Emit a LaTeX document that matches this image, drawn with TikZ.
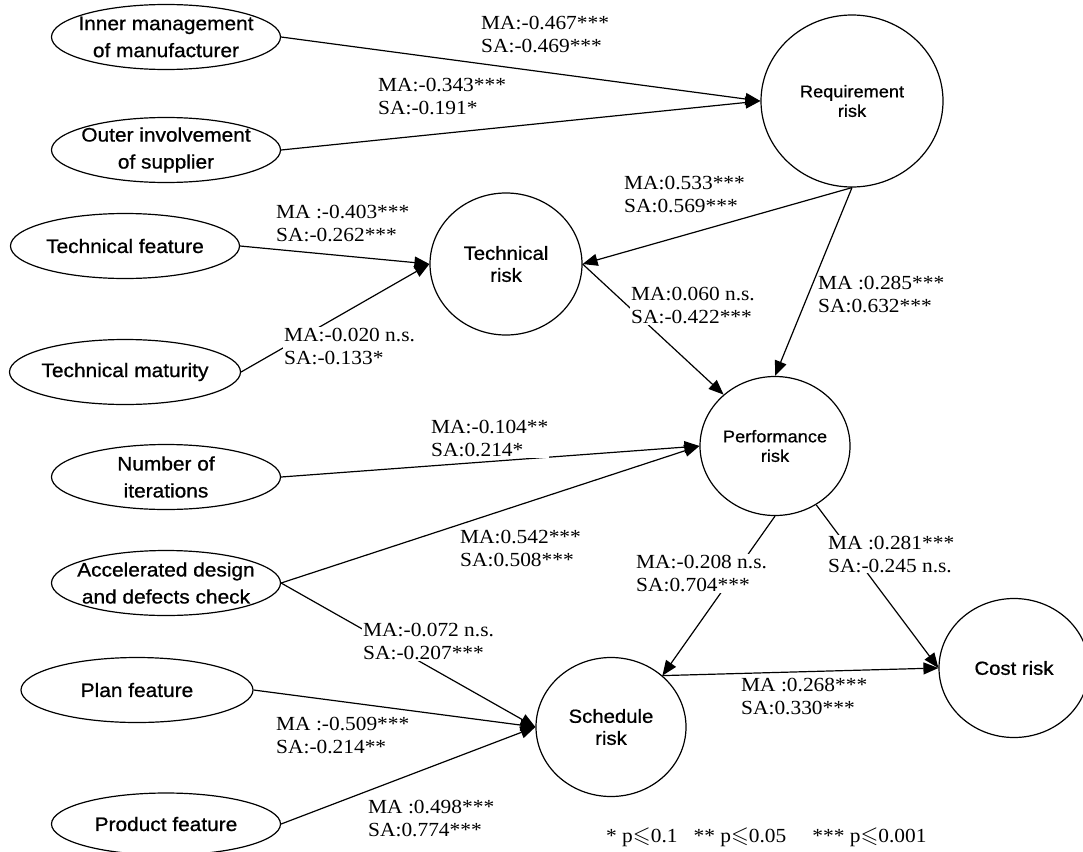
\documentclass[tikz,border=0pt]{standalone}
\usepackage{fontspec}
\usepackage{amssymb}
\setmainfont{Liberation Serif}[FakeStretch=1.07]
\newfontfamily\lsans{Liberation Sans}[FakeStretch=1.07,FakeBold=0.8]
\usetikzlibrary{shapes.geometric,arrows.meta}
\newcommand{\pleq}{p{\fontsize{23}{23}\selectfont$\leqslant$}}
\begin{document}
\begin{tikzpicture}[x=1pt,y=-1pt,
  every node/.style={inner sep=0pt},
  oval/.style={draw,ellipse,line width=1.2pt,minimum width=229pt,minimum height=65pt},
  ovaltext/.style={font=\lsans\fontsize{19.5}{27}\selectfont,align=center},
  risk/.style={draw,ellipse,line width=1.2pt,minimum width=150pt,minimum height=139pt,
    font=\lsans\fontsize{19}{22}\selectfont,align=center},
  smallrisk/.style={font=\lsans\fontsize{17}{19.5}\selectfont},
  coef/.style={font=\fontsize{20}{23}\selectfont,align=left,anchor=west,fill=white,inner sep=1pt},
  arr/.style={line width=1.2pt,-{Triangle[length=15pt,width=12pt]}}
]
\useasboundingbox (0,0) rectangle (1083,851);

% exogenous factors
\node[oval,label={[ovaltext]center:{Inner management\\of manufacturer}}] (inner) at (166,37) {};
\node[oval,label={[ovaltext]center:{Outer involvement\\of supplier}}] (outer) at (166,150) {};
\node[oval,label={[ovaltext]center:{Technical feature}}] (tfeat) at (125,246) {};
\node[oval,minimum width=231pt,label={[ovaltext]center:{Technical maturity}}] (tmat) at (125,372) {};
\node[oval,label={[ovaltext]center:{Number of\\iterations}}] (numit) at (166,477) {};
\node[oval,label={[ovaltext]center:{Accelerated design\\and defects check}}] (accel) at (166,583) {};
\node[oval,minimum width=232pt,label={[ovaltext]center:{Plan feature}}] (plan) at (137,690) {};
\node[oval,minimum height=62pt,label={[ovaltext]center:{Product feature}}] (prod) at (166,824) {};

% risks
\node[risk,smallrisk,minimum width=182pt,minimum height=172pt] (req) at (852,101) {Requirement\\risk};
\node[risk,minimum width=152pt,minimum height=142pt] (tech) at (506,264) {Technical\\risk};
\node[risk,smallrisk] (perf) at (775,446) {Performance\\risk};
\node[risk] (sched) at (611,727) {Schedule\\risk};
\node[risk] (cost) at (1014,668) {Cost risk};

% connectors
\draw[arr] (inner.east) -- (req.west);
\draw[arr] (outer.east) -- (req.west);
\draw[arr] (tfeat.east) -- (tech.west);
\draw[arr] (tmat.east) -- (tech.west);
\draw[arr] (req.south) -- (tech.east);
\draw[arr] (req.south) -- (perf.north);
\draw[arr] (tech.east) -- (perf.135);
\draw[arr] (numit.east) -- (perf.west);
\draw[arr] (accel.east) -- (perf.west);
\draw[arr] (accel.east) -- (sched.west);
\draw[arr] (plan.east) -- (sched.west);
\draw[arr] (prod.east) -- (sched.west);
\draw[arr] (perf.south) -- (sched.45);
\draw[arr] (perf.-55) -- (cost.west);
\draw[arr] (sched.45) -- (cost.west);

% coefficients
\node[coef] (l1) at (480,34.5) {MA:-0.467***\\SA:-0.469***};
\node[coef] (l2) at (377,96.5) {MA:-0.343***\\SA:-0.191*};
\node[coef] (l3) at (275,223.5) {MA :-0.403***\\SA:-0.262***};
\node[coef] (l4) at (623,194.5) {MA:0.533***\\SA:0.569***};
\node[coef] (l5) at (630,305.5) {MA:0.060 n.s.\\SA:-0.422***};
\node[coef] (l6) at (817,294.5) {MA :0.285***\\SA:0.632***};
\node[coef] (l7) at (283,346.5) {MA:-0.020 n.s.\\SA:-0.133*};
\node[coef] (l8) at (430,438.5) {MA:-0.104**\\SA:0.214*};
\node[coef] (l9) at (459,548.5) {MA:0.542***\\SA:0.508***};
\node[coef] (l10) at (362,641.5) {MA:-0.072 n.s.\\SA:-0.207***};
\node[coef] (l11) at (275,735) {MA :-0.509***\\SA:-0.214**};
\node[coef] (l12) at (367,818.5) {MA :0.498***\\SA:0.774***};
\node[coef] (l13) at (635,573.5) {MA:-0.208 n.s.\\SA:0.704***};
\node[coef] (l14) at (827,554) {MA :0.281***\\SA:-0.245 n.s.};
\node[coef] (l15) at (740,696.5) {MA :0.268***\\SA:0.330***};

\node[font=\fontsize{20}{23}\selectfont,anchor=west] (legend) at (606,837)
  {* \pleq0.1\hspace{16pt}** \pleq0.05\hspace{26pt}*** \pleq0.001};
\end{tikzpicture}
\end{document}
